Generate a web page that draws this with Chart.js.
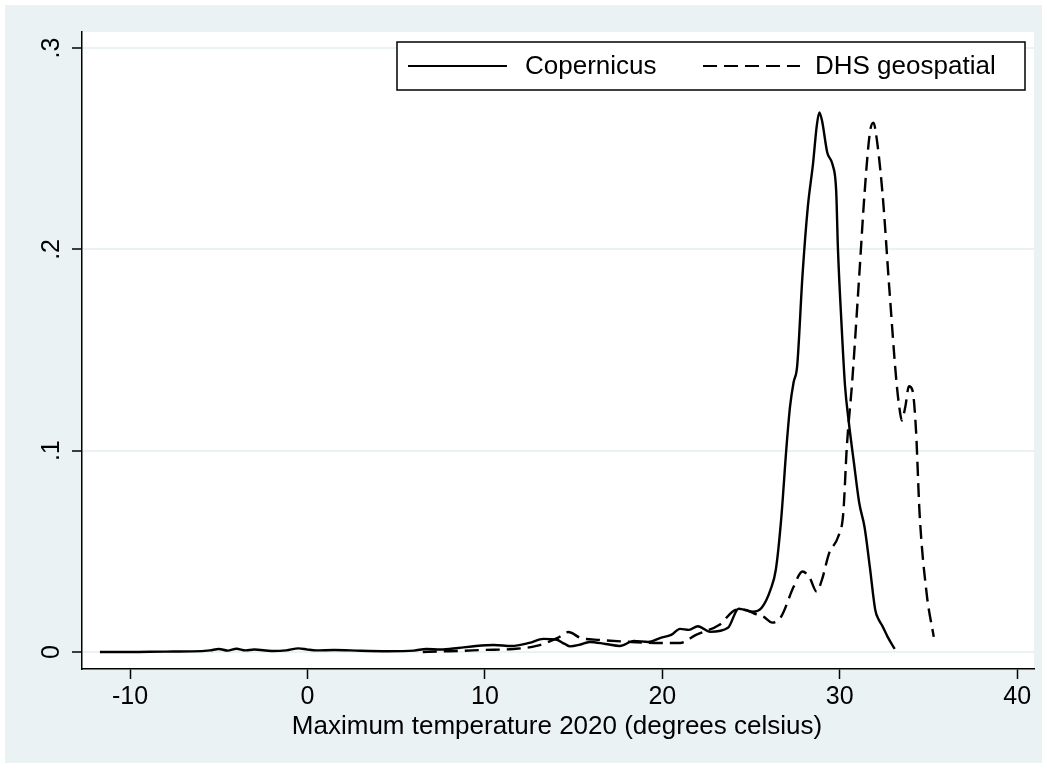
<!DOCTYPE html>
<html>
<head>
<meta charset="utf-8">
<script src="https://cdn.jsdelivr.net/npm/chart.js@4.4.1/dist/chart.umd.min.js"></script>
<style>
  html, body { margin: 0; padding: 0; background: #ffffff; }
  #wrap { width: 1047px; height: 768px; }
</style>
</head>
<body>
<div id="wrap"><canvas id="chart1" width="1047" height="768"></canvas></div>
<script>
// kernel density of max temperature 2020
const copX = [-11.7, -10, -8, -6.5, -5.5, -5, -4.5, -4, -3.5, -3, -2, -1.2, -0.5, 0, 0.5, 1.5, 3, 4.5, 6, 6.7, 7.5, 8.5, 9.5, 10.5, 11.5, 12.5, 13.3, 14, 14.5, 14.8, 15.3, 15.9, 16.8, 17.6, 18.4, 19.2, 19.9, 20.5, 21, 21.5, 22, 22.7, 23.7, 24.3, 25.1, 25.6, 26.1, 26.4, 26.7, 27, 27.2, 27.4, 27.6, 27.9, 28.2, 28.5, 28.7, 28.85, 29.0, 29.3, 29.6, 29.8, 29.9, 30.1, 30.3, 30.5, 30.8, 31.1, 31.4, 31.7, 32.0, 32.2, 32.4, 32.7, 33.1];
const copY = [0, 0, 0.0002, 0.0003, 0.0008, 0.0015, 0.0007, 0.0016, 0.0008, 0.0012, 0.0005, 0.0008, 0.0018, 0.0012, 0.0008, 0.001, 0.0006, 0.0004, 0.0007, 0.0015, 0.0012, 0.002, 0.003, 0.0035, 0.003, 0.0045, 0.0065, 0.0062, 0.004, 0.0028, 0.0035, 0.005, 0.004, 0.003, 0.0055, 0.005, 0.007, 0.0085, 0.0115, 0.011, 0.0128, 0.010, 0.012, 0.0215, 0.020, 0.022, 0.031, 0.041, 0.066, 0.102, 0.122, 0.134, 0.142, 0.187, 0.221, 0.243, 0.261, 0.268, 0.264, 0.248, 0.242, 0.229, 0.200, 0.163, 0.132, 0.115, 0.094, 0.074, 0.062, 0.042, 0.021, 0.016, 0.013, 0.0075, 0.0015];

const dhsX = [6.5, 7.5, 8.5, 9.9, 11.6, 12.9, 14.1, 14.7, 15.4, 16.5, 18.2, 19.9, 21.0, 21.9, 23.2, 24.2, 24.6, 25.2, 25.7, 26.2, 26.7, 27.4, 27.9, 28.3, 28.7, 29.0, 29.4, 29.9, 30.2, 30.4, 30.7, 31.1, 31.4, 31.7, 31.9, 32.0, 32.4, 32.8, 33.2, 33.4, 33.5, 33.7, 33.9, 34.1, 34.3, 34.5, 34.9, 35.3];
const dhsY = [0, 0.0003, 0.0005, 0.001, 0.0015, 0.003, 0.007, 0.0099, 0.007, 0.006, 0.005, 0.0045, 0.0045, 0.0085, 0.0134, 0.021, 0.021, 0.019, 0.0176, 0.0146, 0.0176, 0.0324, 0.040, 0.037, 0.030, 0.036, 0.049, 0.057, 0.069, 0.102, 0.134, 0.187, 0.228, 0.258, 0.263, 0.260, 0.229, 0.180, 0.134, 0.119, 0.115, 0.122, 0.132, 0.130, 0.110, 0.069, 0.029, 0.0075];

const xTicks = [-10, 0, 10, 20, 30, 40];
const yTicks = [0, 0.1, 0.2, 0.3];
const yTickLabels = ['0', '.1', '.2', '.3'];
const seriesNames = ['Copernicus', 'DHS geospatial'];
const xTitle = 'Maximum temperature 2020 (degrees celsius)';

const FONT = "'Liberation Sans', Arial, Helvetica, sans-serif";
const BG = '#eaf2f3';

const toPts = (xs, ys) => xs.map((x, i) => ({ x: x, y: ys[i] }));

// backgrounds, rotated y labels, x title and the boxed legend
const stataLook = {
  id: 'stataLook',
  beforeDraw(chart) {
    const ctx = chart.ctx;
    const a = chart.chartArea;
    ctx.save();
    ctx.fillStyle = '#ffffff';
    ctx.fillRect(0, 0, chart.width, chart.height);
    ctx.fillStyle = BG;
    ctx.fillRect(5, 5, chart.width - 10, chart.height - 10);
    ctx.fillStyle = '#ffffff';
    ctx.fillRect(a.left, a.top, a.right - a.left, a.bottom - a.top);
    ctx.restore();
  },
  afterDraw(chart) {
    const ctx = chart.ctx;
    const ys = chart.scales.y;
    const a = chart.chartArea;
    ctx.save();
    ctx.fillStyle = '#000';
    ctx.font = '25px ' + FONT;
    ctx.textAlign = 'center';
    ctx.textBaseline = 'middle';
    yTicks.forEach((v, i) => {
      ctx.save();
      ctx.translate(52, ys.getPixelForValue(v));
      ctx.rotate(-Math.PI / 2);
      ctx.fillText(yTickLabels[i], 0, 0);
      ctx.restore();
    });

    ctx.font = '26px ' + FONT;
    ctx.textBaseline = 'alphabetic';
    ctx.fillText(xTitle, 557, 734);

    // legend
    const bx = 397, by = 42, bw = 628, bh = 48, my = by + bh / 2;
    ctx.fillStyle = '#fff';
    ctx.fillRect(bx, by, bw, bh);
    ctx.strokeStyle = '#000';
    ctx.lineWidth = 1.5;
    ctx.strokeRect(bx, by, bw, bh);
    ctx.lineWidth = 2.2;
    ctx.beginPath();
    ctx.moveTo(408, my); ctx.lineTo(507, my);
    ctx.stroke();
    ctx.setLineDash([14, 7]);
    ctx.beginPath();
    ctx.moveTo(703, my); ctx.lineTo(800, my);
    ctx.stroke();
    ctx.setLineDash([]);
    ctx.fillStyle = '#000';
    ctx.font = '26px ' + FONT;
    ctx.textAlign = 'left';
    ctx.textBaseline = 'middle';
    ctx.fillText(seriesNames[0], 525, my + 1);
    ctx.fillText(seriesNames[1], 815, my + 1);
    ctx.restore();
  }
};

window.addEventListener('DOMContentLoaded', () => {
  const ctx = document.getElementById('chart1').getContext('2d');
  new Chart(ctx, {
    type: 'line',
    data: {
      datasets: [
        {
          label: seriesNames[0],
          data: toPts(copX, copY),
          borderColor: '#000',
          borderWidth: 2.4,
          pointRadius: 0,
          cubicInterpolationMode: 'monotone',
          fill: false
        },
        {
          label: seriesNames[1],
          data: toPts(dhsX, dhsY),
          borderColor: '#000',
          borderWidth: 2.4,
          borderDash: [14, 7],
          pointRadius: 0,
          cubicInterpolationMode: 'monotone',
          fill: false
        }
      ]
    },
    options: {
      responsive: false,
      animation: false,
      layout: { padding: { left: 0, top: 32, right: 13, bottom: 0 } },
      plugins: {
        legend: { display: false },
        tooltip: { enabled: false }
      },
      scales: {
        x: {
          type: 'linear',
          min: -12.71,
          max: 40.95,
          afterBuildTicks: (s) => { s.ticks = xTicks.map(v => ({ value: v })); },
          afterFit: (s) => { s.height = 99; },
          grid: { drawOnChartArea: false, tickColor: '#000', tickLength: 10, tickWidth: 1.5 },
          border: { display: true, color: '#000', width: 1.5 },
          ticks: { color: '#000', font: { family: FONT, size: 25 }, padding: 3, maxRotation: 0 }
        },
        y: {
          type: 'linear',
          min: -0.00845,
          max: 0.308,
          afterBuildTicks: (s) => { s.ticks = yTicks.map(v => ({ value: v })); },
          afterFit: (s) => { s.width = 82; },
          grid: { color: BG, lineWidth: 2, tickColor: '#000', tickLength: 10, tickWidth: 1.5 },
          border: { display: true, color: '#000', width: 1.5 },
          ticks: { callback: () => '' }
        }
      }
    },
    plugins: [stataLook]
  });
});
</script>
</body>
</html>
